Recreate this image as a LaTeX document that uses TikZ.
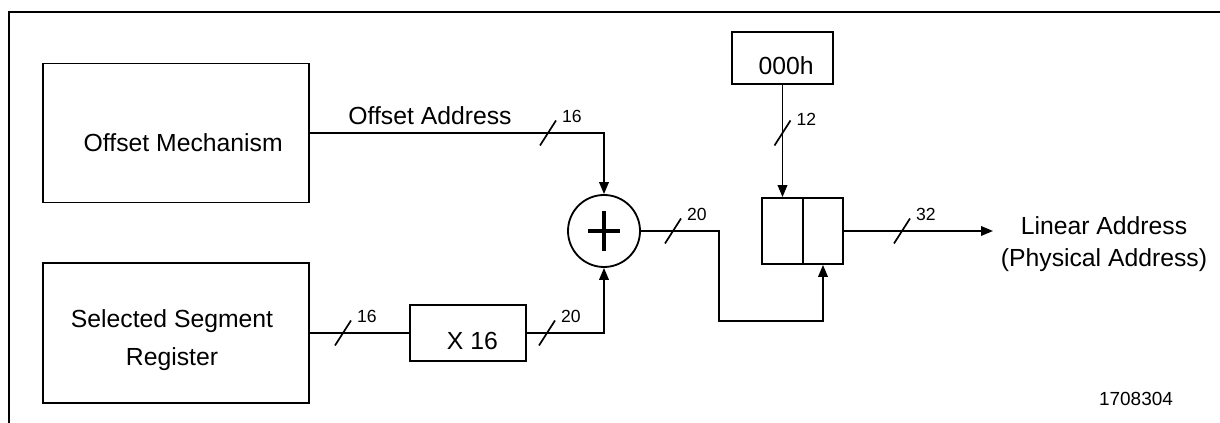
\documentclass[tikz,border=0pt]{standalone}
\usepackage{fontspec}
\setmainfont{Liberation Sans}
\usetikzlibrary{arrows.meta}

\begin{document}
\begin{tikzpicture}[
        % 定義方塊樣式:黑框、白底、矩形
        block/.style={
            rectangle,
            draw=black,       % 黑色邊框
            line width=1.3pt,
            inner sep=0pt
        },
        % 定義加法器樣式 (圓形)
        adder/.style={
            circle,
            draw=black,
            line width=1.3pt,
            inner sep=0pt,
            minimum size=1.8cm
        },
        % 定義連線樣式
        wire/.style={
            black,
            line width=1.2pt
        },
        arrowwire/.style={
            wire,
            -{Triangle[length=0.3cm,width=0.24cm]}
        },
        % 匯流排寬度的斜線與數字
        busmark/.style={
            black,
            line width=1.2pt
        },
        buslabel/.style={
            anchor=west,
            inner sep=0pt,
            xshift=0.13cm,
            yshift=0.1cm,
            font=\fontsize{12.5}{14}\selectfont
        },
        % 一般文字 (方塊內文字略往右下)
        plain/.style={
            font=\fontsize{17.6}{21}\selectfont
        }
    ]
        \useasboundingbox (0,0) rectangle (30.5,10.575);

        % --- 1. 外框 ---
        \draw[line width=2pt] (0.225,0) -- (0.225,10.275) -- (30.5,10.275);

        % --- 2. 方塊節點 ---
        \node[block, minimum width=6.65cm, minimum height=3.475cm] (mech) at (4.4, 7.25) {};
        \node[block, minimum width=6.65cm, minimum height=3.5cm] (segreg) at (4.4, 2.25) {};
        \node[block, minimum width=2.9cm, minimum height=1.4cm] (times) at (11.7, 2.25) {};
        \node[adder] (add) at (15.1, 4.8) {};
        \node[block, minimum width=2.525cm, minimum height=1.3cm] (zero) at (19.5625, 9.125) {};

        % 合併暫存器 (左右兩格)
        \node[block, minimum width=1.0125cm, minimum height=1.65cm] (hi) at (19.5625, 4.8) {};
        \node[block, minimum width=1.0125cm, minimum height=1.65cm] (lo) at (20.575, 4.8) {};

        % 方塊內文字
        \node[plain] (mechtext) at ([shift={(0.18,-0.25)}]mech.center) {Offset Mechanism};
        \node[plain, align=center] (segtext) at ([shift={(-0.1,-0.18)}]segreg.center) {Selected Segment\\[6pt]Register};
        \node[plain] (timestext) at ([shift={(0.11,-0.2)}]times.center) {X 16};
        \node[plain] (zerotext) at ([shift={(0.09,-0.2)}]zero.center) {000h};

        % 其他文字
        \node[plain, anchor=base] (offtext) at (10.75, 7.45) {Offset Address};
        \node[plain, align=center] (linear) at (27.6, 4.475) {Linear Address\\[2pt](Physical Address)};
        \node[plain, font=\fontsize{13.5}{16}\selectfont] (fignum) at (28.4, 0.6) {1708304};

        % 加號
        \draw[line width=2.8pt] (add.center) +(-0.4,0) -- +(0.4,0)
            (add.center) +(0,-0.5) -- +(0,0.5);

        % --- 3. 連線 ---
        \coordinate (bend) at (17.975, 2.55);
        \coordinate (outend) at (24.825, 4.8);

        \draw[arrowwire] (mech.east) -| (add.north);
        \draw[wire] (segreg.east) -- (times.west);
        \draw[arrowwire] (times.east) -| (add.south);
        \draw[arrowwire] (add.east) -| (bend) -| (lo.south);
        \draw[arrowwire] (zero.south) -- (hi.north);
        \draw[arrowwire] (lo.east) -- (outend);

        % --- 4. 匯流排寬度標記 ---
        \draw[busmark] (13.7,7.25) +(-0.2,-0.3125) -- +(0.2,0.3125) node[buslabel] {16};
        \draw[busmark] (8.575,2.25) +(-0.2,-0.3125) -- +(0.2,0.3125) node[buslabel] {16};
        \draw[busmark] (13.675,2.25) +(-0.2,-0.3125) -- +(0.2,0.3125) node[buslabel] {20};
        \draw[busmark] (16.825,4.8) +(-0.2,-0.3125) -- +(0.2,0.3125) node[buslabel] {20};
        \draw[busmark] (19.5625,7.25) +(-0.2,-0.3125) -- +(0.2,0.3125) node[buslabel, yshift=-0.08cm] {12};
        \draw[busmark] (22.55,4.8) +(-0.2,-0.3125) -- +(0.2,0.3125) node[buslabel] {32};

    \end{tikzpicture}
\end{document}
